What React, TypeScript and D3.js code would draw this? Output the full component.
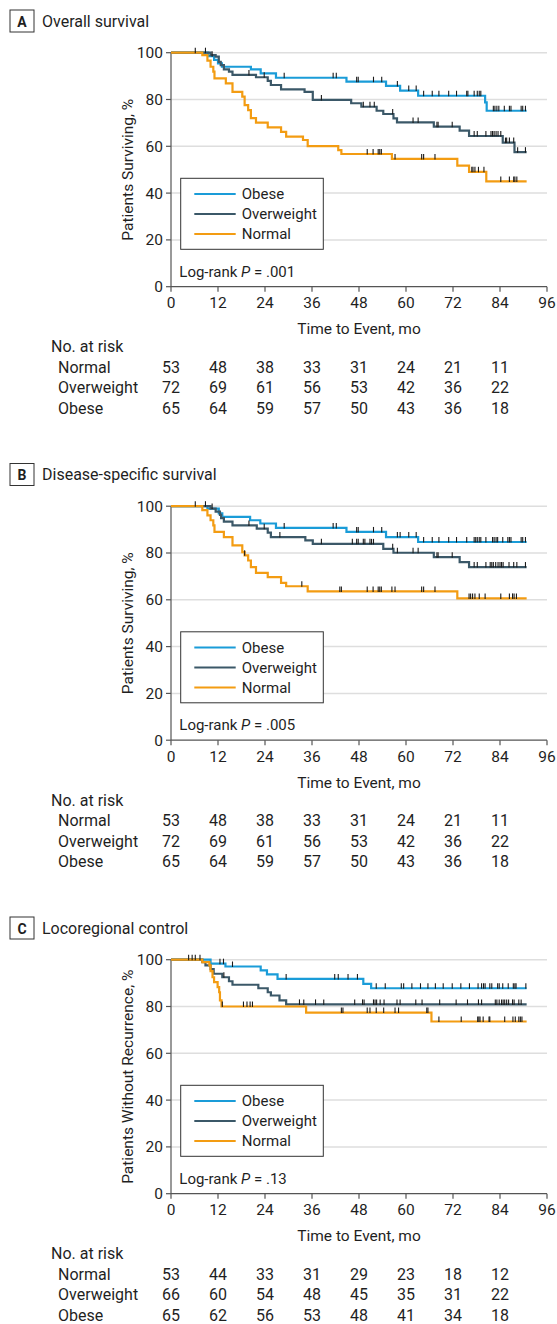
import React from "react";
import * as d3 from "d3";

// ---------- axis ticks ----------
const xTicks = [0, 12, 24, 36, 48, 60, 72, 84, 96];
const yTicks = [0, 20, 40, 60, 80, 100];
const riskMonths = [0, 12, 24, 36, 48, 60, 72, 84];

// ---------- Panel A: Overall survival (step points [month, %]) ----------
const osNormal: [number, number][] = [[0,100],[8,99],[9.3,96.6],[10.1,94],[10.8,91.9],[11.1,89],[14,86.9],[15.7,83.3],[18.2,81.2],[18.8,77.6],[19.7,75.5],[20.4,72],[21.7,70.1],[24.7,68.1],[28.1,66.2],[29.4,64.1],[33.7,62.7],[34.9,60.1],[42.7,58.4],[43.5,56.7],[56.4,54.6],[73.1,51.7],[76.1,49.1],[80.5,45],[90.8,45]];
const osOverweight: [number, number][] = [[0,100],[10.1,99],[11.4,98.3],[12.2,96.1],[12.7,94.7],[13.5,92.9],[14.8,91.9],[15.7,90.5],[21.7,89.5],[24.7,88],[25.5,86.2],[28.1,84.3],[34.1,83.3],[36.2,79.8],[46,78.4],[48.6,76.9],[52.5,75.2],[54.2,73.8],[56.8,71.9],[57.7,70.2],[67.1,68.4],[73.7,66.7],[76.1,64.4],[84.7,61.6],[87.7,57.5],[90.8,57.5]];
const osObese: [number, number][] = [[0,100],[9.5,98.5],[11,96.9],[12,95.4],[13,94],[20.4,92.9],[22.9,91.2],[26.8,89.3],[44.8,87.6],[54.9,85.8],[58.5,83.8],[63.1,81.6],[80.2,78.8],[80.6,75.2],[90.8,75.2]];
const osNormalCensor = [6.2,50.1,51.6,52.9,53.3,53.7,57.2,64,64.5,67.4,76.8,77.1,77.6,78.5,79.9,84.2,86.4,87.5,87.8,88.3];
const osOverweightCensor = [8.8,19.9,23.8,38.4,49.1,50.8,51.9,56.6,61.8,63.1,67.9,68.2,71.8,77.4,78.2,80.4,81.7,82.1,82.5,83,83.5,84.2,85.4,85.7,86.4,87.5,88.5,90.5];
const osObeseCensor = [10.5,28.9,41.4,42.2,47.4,47.8,51.7,53.8,57.8,60.7,62.6,64.5,66.7,68.4,70.9,72.9,75.5,75.8,77.4,78.2,78.7,79.1,82.3,82.7,83.2,83.7,85.1,86.4,86.8,89.4,89.8,90.5];
const osRiskNormal = [53, 48, 38, 33, 31, 24, 21, 11];
const osRiskOverweight = [72, 69, 61, 56, 53, 42, 36, 22];
const osRiskObese = [65, 64, 59, 57, 50, 43, 36, 18];

// ---------- Panel B: Disease-specific survival ----------
const dsNormal: [number, number][] = [[0,100],[8,98.3],[9.3,96.1],[10.1,94],[10.8,91.8],[11.1,89],[13.5,86.8],[15.7,83.3],[18.2,80.4],[18.8,79],[19.7,76.8],[20.4,74],[21.7,71.5],[24.7,69.7],[28.1,67.2],[29.4,65.8],[34.9,63.6],[73.1,60.6],[90.8,60.6]];
const dsOverweight: [number, number][] = [[0,100],[10.1,99],[11.4,97.7],[12.5,96.3],[12.8,94.9],[13.5,93.4],[15.7,91.8],[21.9,90.4],[24.7,88.7],[25.5,86.8],[34.3,85.4],[36.2,83.9],[54.2,81.8],[56.8,80.1],[67.1,78.2],[73.7,76.1],[76.1,74],[90.8,74]];
const dsObese: [number, number][] = [[0,100],[9.3,99],[12.2,96.9],[13.1,95.4],[20.2,94],[22.8,92.6],[26.8,90.7],[44.8,89],[54.9,86.8],[63.1,84.7],[90.8,84.7]];
const dsNormalCensor = [6.2,18.8,33.4,43.1,43.5,50.1,51.6,52.9,53.3,53.7,56.4,57.2,64,64.5,67.4,76.1,76.5,77,77.6,78.7,80.2,84.2,86.4,87.2,87.6,88.2];
const dsOverweightCensor = [8.8,19.9,23.8,27.8,38.4,46.3,47.4,47.8,49.1,49.5,50.8,51.2,51.7,56.6,57.8,61.8,63.1,67.9,68.2,71.8,77.4,78.2,80.4,81.5,81.9,82.3,82.9,83.5,84,84.4,84.8,86.3,87.5,88.3,90.5];
const dsObeseCensor = [10.5,28.9,41.4,42.2,47.4,47.8,51.7,53.8,57.8,58.5,60.7,62.6,64.5,66.7,68.4,70.9,72.9,75.5,77.4,77.8,78.2,78.7,79.1,80.4,82.1,82.5,83,83.4,84.7,86,86.4,86.8,89.4,89.8,90.5];
const dsRiskNormal = [53, 48, 38, 33, 31, 24, 21, 11];
const dsRiskOverweight = [72, 69, 61, 56, 53, 42, 36, 22];
const dsRiskObese = [65, 64, 59, 57, 50, 43, 36, 18];

// ---------- Panel C: Locoregional control ----------
const lcNormal: [number, number][] = [[0,100],[8,99],[9.8,97.6],[10.1,95.1],[10.6,92.5],[11,90.4],[11.9,88.3],[12.3,86.1],[12.5,82.6],[12.9,80],[34.5,77.4],[66.5,73.6],[90.8,73.6]];
const lcOverweight: [number, number][] = [[0,100],[8,99],[8.8,97.6],[10.1,96],[10.9,94],[13.1,92.5],[14.8,90.8],[15.7,89.3],[22.3,87.8],[24.7,86.1],[25.5,84.7],[27.7,82.6],[29.4,80.9],[90.8,80.9]];
const lcObese: [number, number][] = [[0,100],[10.1,98.3],[13.9,97.1],[22.9,95.4],[24.5,93.7],[27.2,91.8],[49.1,89.7],[51.1,87.8],[90.8,87.8]];
const lcNormalCensor = [5.4,13.1,18.5,19.4,20.2,20.8,43.5,43.9,50.1,50.8,52.4,54.3,57.2,58.1,65.3,65.6,68.4,74.1,78.3,78.6,78.9,79.7,81.2,81.4,85.2,87.3,87.9,88.8,89.2,89.6];
const lcOverweightCensor = [4.5,7.4,13.5,32.8,33.9,36.9,39,46.9,48.9,49.3,51.7,52.1,52.5,53.4,54.4,57.7,58.5,62.5,64.1,68.6,72.8,75.7,78.5,79.3,82.8,83.2,83.8,84.4,84.8,85.2,85.7,86.2,87.2,87.6,88.8,89.4];
const lcObeseCensor = [6.2,12.5,13.4,15.7,29.4,41.8,42.7,45.2,47.6,52.4,54.7,58.8,59.4,61.5,63.7,65.6,67.5,69.5,71.8,74,76.2,78.4,79.3,79.8,80.2,81.4,81.9,83.4,83.8,84.7,86.1,87.4,87.8,88.1,90.6];
const lcRiskNormal = [53, 44, 33, 31, 29, 23, 18, 12];
const lcRiskOverweight = [66, 60, 54, 48, 45, 35, 31, 22];
const lcRiskObese = [65, 62, 56, 53, 48, 41, 34, 18];

const COLORS: Record<string, string> = {
  Obese: "#1a9cd8",
  Overweight: "#3b5868",
  Normal: "#f39c12",
};
const FONT = "Roboto, 'Noto Sans', sans-serif";

type Curve = { name: string; steps: [number, number][]; censor: number[] };
type PanelDef = {
  letter: string;
  title: string;
  yLabel: string;
  pval: string;
  offset: number;
  curves: Curve[];
  risk: { name: string; values: number[] }[];
};

const panels: PanelDef[] = [
  {
    letter: "A", title: "Overall survival", yLabel: "Patients Surviving, %", pval: ".001", offset: 0,
    curves: [
      { name: "Obese", steps: osObese, censor: osObeseCensor },
      { name: "Overweight", steps: osOverweight, censor: osOverweightCensor },
      { name: "Normal", steps: osNormal, censor: osNormalCensor },
    ],
    risk: [
      { name: "Normal", values: osRiskNormal },
      { name: "Overweight", values: osRiskOverweight },
      { name: "Obese", values: osRiskObese },
    ],
  },
  {
    letter: "B", title: "Disease-specific survival", yLabel: "Patients Surviving, %", pval: ".005", offset: 453.5,
    curves: [
      { name: "Obese", steps: dsObese, censor: dsObeseCensor },
      { name: "Overweight", steps: dsOverweight, censor: dsOverweightCensor },
      { name: "Normal", steps: dsNormal, censor: dsNormalCensor },
    ],
    risk: [
      { name: "Normal", values: dsRiskNormal },
      { name: "Overweight", values: dsRiskOverweight },
      { name: "Obese", values: dsRiskObese },
    ],
  },
  {
    letter: "C", title: "Locoregional control", yLabel: "Patients Without Recurrence, %", pval: ".13", offset: 907,
    curves: [
      { name: "Obese", steps: lcObese, censor: lcObeseCensor },
      { name: "Overweight", steps: lcOverweight, censor: lcOverweightCensor },
      { name: "Normal", steps: lcNormal, censor: lcNormalCensor },
    ],
    risk: [
      { name: "Normal", values: lcRiskNormal },
      { name: "Overweight", values: lcRiskOverweight },
      { name: "Obese", values: lcRiskObese },
    ],
  },
];

const legendOrder = ["Obese", "Overweight", "Normal"];

function valueAt(steps: [number, number][], t: number) {
  let v = steps[0][1];
  for (const s of steps) {
    if (s[0] <= t) v = s[1];
    else break;
  }
  return v;
}

function Panel({ p }: { p: PanelDef }) {
  const off = p.offset;
  const x = d3.scaleLinear().domain([0, 96]).range([171, 547]);
  const y = d3.scaleLinear().domain([0, 100]).range([286.7 + off, 52.7 + off]);
  const line = d3
    .line<[number, number]>()
    .x((d) => x(d[0]))
    .y((d) => y(d[1]))
    .curve(d3.curveStepAfter);
  const textColor = "#1f1f1f";
  return (
    <g fontFamily={FONT} fill={textColor}>
      {/* header */}
      <rect x={10} y={10 + off} width={24} height={22} fill="#fff" stroke="#333" strokeWidth={1} />
      <text x={22} y={26.5 + off} textAnchor="middle" fontSize={14} fontWeight="bold">{p.letter}</text>
      <text x={42} y={26.5 + off} fontSize={16}>{p.title}</text>

      {/* gridlines */}
      {yTicks.filter((t) => t > 0).map((t) => (
        <line key={"g" + t} x1={x(0)} x2={x(96)} y1={y(t)} y2={y(t)} stroke="#dedede" strokeWidth={1.5} />
      ))}

      {/* y axis */}
      <line x1={x(0)} x2={x(0)} y1={y(0)} y2={y(100)} stroke="#555" strokeWidth={1.2} />
      {yTicks.map((t) => (
        <g key={"y" + t}>
          <line x1={x(0) - 5} x2={x(0)} y1={y(t)} y2={y(t)} stroke="#555" strokeWidth={1.2} />
          <text x={x(0) - 8} y={y(t)} dy="0.35em" textAnchor="end" fontSize={15.5}>{t}</text>
        </g>
      ))}
      <text
        transform={`translate(133, ${(y(0) + y(100)) / 2}) rotate(-90)`}
        textAnchor="middle"
        fontSize={15.5}
      >
        {p.yLabel}
      </text>

      {/* x axis */}
      <line x1={x(0)} x2={x(96)} y1={y(0)} y2={y(0)} stroke="#555" strokeWidth={1.2} />
      {xTicks.map((t) => (
        <g key={"x" + t}>
          <line x1={x(t)} x2={x(t)} y1={y(0)} y2={y(0) + 5} stroke="#555" strokeWidth={1.2} />
          <text x={x(t)} y={308 + off} textAnchor="middle" fontSize={15.5}>{t}</text>
        </g>
      ))}
      <text x={(x(0) + x(96)) / 2} y={334 + off} textAnchor="middle" fontSize={15.5}>Time to Event, mo</text>

      {/* curves */}
      {p.curves.map((c) => (
        <path key={c.name} d={line(c.steps) || ""} fill="none" stroke={COLORS[c.name]} strokeWidth={2.2} />
      ))}
      {p.curves.map((c) =>
        c.censor.map((t, i) => {
          const v = valueAt(c.steps, t);
          return (
            <line key={c.name + i} x1={x(t)} x2={x(t)} y1={y(v) - 5} y2={y(v) + 0.5} stroke="#1a1a1a" strokeWidth={1.1} />
          );
        })
      )}

      {/* legend */}
      <rect x={180.7} y={178.3 + off} width={142.6} height={71} fill="#fff" stroke="#333" strokeWidth={1} />
      {legendOrder.map((n, i) => (
        <g key={n}>
          <line x1={194.3} x2={235.7} y1={194 + off + i * 20} y2={194 + off + i * 20} stroke={COLORS[n]} strokeWidth={2.2} />
          <text x={241.7} y={194 + off + i * 20} dy="0.35em" fontSize={15}>{n}</text>
        </g>
      ))}
      <text x={179.3} y={276.5 + off} fontSize={15}>
        Log-rank <tspan fontStyle="italic">P</tspan> = {p.pval}
      </text>

      {/* number at risk */}
      <text x={51} y={352 + off} fontSize={16}>No. at risk</text>
      {p.risk.map((r, i) => (
        <g key={r.name}>
          <text x={58} y={372.5 + off + i * 20.5} fontSize={16}>{r.name}</text>
          {r.values.map((v, j) => (
            <text key={j} x={x(riskMonths[j])} y={372.5 + off + i * 20.5} textAnchor="middle" fontSize={16}>{v}</text>
          ))}
        </g>
      ))}
    </g>
  );
}

export default function App() {
  return (
    <svg
      width={557}
      height={1324}
      viewBox="0 0 557 1324"
      style={{ position: "absolute", left: 0, top: 0, background: "#fff" }}
    >
      <rect x={0} y={0} width={557} height={1324} fill="#fff" />
      {panels.map((p) => (
        <Panel key={p.letter} p={p} />
      ))}
    </svg>
  );
}
